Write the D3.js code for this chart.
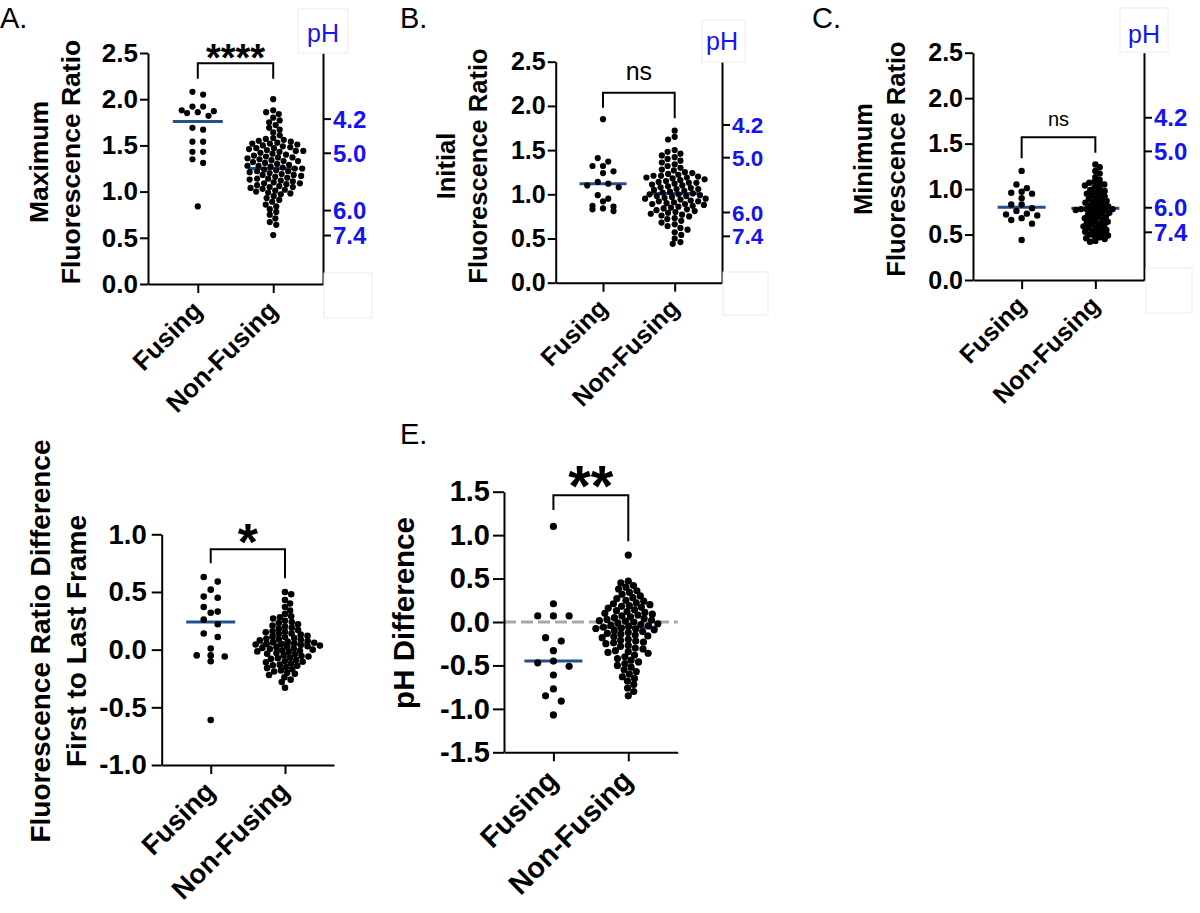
<!DOCTYPE html>
<html><head><meta charset="utf-8">
<script src="https://cdn.jsdelivr.net/npm/d3@7"></script>
<style>body{margin:0;background:#fff}svg{display:block}</style>
</head><body>
<svg id="chart" width="1200" height="913"></svg>
<script>
// ---------------- DATA ----------------
const categories = ["Fusing", "Non-Fusing"];

const maxFusing = [2.08, 2.05, 1.92, 1.92, 1.88, 1.87, 1.86, 1.85, 1.82, 1.69, 1.67, 1.54, 1.54, 1.43, 1.43, 1.35, 1.31, 0.84];
const maxNonFusing = [2.00, 1.88, 1.86, 1.84, 1.80, 1.77, 1.75, 1.72, 1.69, 1.67, 1.64, 1.61,
  1.58, 1.57, 1.56, 1.55, 1.54, 1.53, 1.52, 1.51, 1.50, 1.49, 1.48, 1.47, 1.46, 1.45, 1.44, 1.43,
  1.42, 1.41, 1.40, 1.39, 1.38, 1.37, 1.36, 1.35, 1.34, 1.33, 1.32, 1.31, 1.30, 1.29, 1.28, 1.27,
  1.26, 1.25, 1.25, 1.24, 1.23, 1.22, 1.21, 1.20, 1.19, 1.18, 1.17, 1.16, 1.15, 1.14, 1.13, 1.12,
  1.11, 1.10, 1.09, 1.08, 1.07, 1.06, 1.05, 1.04, 1.03, 1.02, 1.01, 1.00, 0.99, 0.98, 0.97,
  1.52, 1.47, 1.44, 1.37, 1.33, 1.28, 1.22, 1.18, 1.14, 1.09, 1.05,
  0.95, 0.93, 0.91, 0.89, 0.86, 0.84, 0.81, 0.78, 0.75, 0.71, 0.67, 0.64, 0.53];

const initFusing = [1.85, 1.41, 1.37, 1.32, 1.32, 1.26, 1.24, 1.14, 1.12, 1.10, 1.08, 0.99, 0.95, 0.92, 0.87, 0.86, 0.84, 0.83, 0.81];
const initNonFusing = [1.72, 1.65, 1.62, 1.50, 1.48, 1.46, 1.44, 1.42, 1.40, 1.38, 1.36, 1.34, 1.32,
  1.30, 1.28, 1.27, 1.25, 1.24, 1.23, 1.22, 1.21, 1.20, 1.19, 1.18, 1.17, 1.16, 1.15, 1.14, 1.13,
  1.12, 1.11, 1.10, 1.09, 1.08, 1.07, 1.06, 1.05, 1.04, 1.03, 1.02, 1.01, 1.00, 1.00, 0.99, 0.98,
  0.97, 0.96, 0.95, 0.94, 0.93, 0.92, 0.91, 0.90, 0.89, 0.88, 0.87, 0.86, 0.85, 0.84, 0.83, 0.82,
  0.81, 0.80, 0.79, 0.78, 0.77, 0.76, 0.75, 0.73, 0.72, 0.70, 0.68, 0.66, 0.64, 0.62, 0.60, 0.57,
  0.54, 0.50, 0.46, 0.44, 1.21, 1.19, 1.06, 0.98, 0.95, 0.92, 0.89, 1.13];

const minFusing = [1.20, 1.05, 1.01, 0.97, 0.96, 0.95, 0.90, 0.83, 0.83, 0.79, 0.76, 0.73, 0.72, 0.71, 0.68, 0.66, 0.62, 0.44];
const minNonFusing = [1.27, 1.24, 1.20, 1.17, 1.13, 1.10, 1.08, 1.07, 1.05, 1.05, 1.04, 1.02, 1.00, 0.99,
  0.98, 0.97, 0.95, 0.94, 0.93, 0.92, 0.90, 0.89, 0.88, 0.87, 0.86, 0.85, 0.84, 0.83, 0.82, 0.81,
  0.80, 0.79, 0.78, 0.78, 0.78, 0.77, 0.77, 0.76, 0.75, 0.74, 0.73, 0.72, 0.71,
  0.70, 0.69, 0.68, 0.67, 0.66, 0.65, 0.64, 0.63, 0.62, 0.61, 0.60, 0.59, 0.58, 0.57, 0.56, 0.55,
  0.54, 0.53, 0.52, 0.51, 0.50, 0.49, 0.48, 0.47, 0.46, 0.45, 0.43, 0.42];

const diffFusing = [0.63, 0.59, 0.52, 0.46, 0.45, 0.37, 0.33, 0.32, 0.26, 0.22, 0.14, 0.11, 0.01, -0.05, -0.06, -0.05, -0.10, -0.61];
const diffNonFusing = [0.50, 0.48, 0.43, 0.40, 0.37, 0.34, 0.31, 0.29, 0.28, 0.27, 0.25, 0.24, 0.23,
  0.22, 0.21, 0.20, 0.19, 0.18, 0.17, 0.16, 0.155, 0.15, 0.14, 0.135, 0.13, 0.12, 0.115, 0.11, 0.10,
  0.095, 0.09, 0.085, 0.08, 0.075, 0.07, 0.065, 0.06, 0.055, 0.05, 0.05, 0.045, 0.04, 0.035, 0.03,
  0.025, 0.02, 0.015, 0.01, 0.005, 0.00, -0.005, -0.01, -0.015, -0.02, -0.03, -0.035, -0.04, -0.05,
  -0.055, -0.06, -0.07, -0.075, -0.08, -0.09, -0.10, -0.105, -0.11, -0.12, -0.13, -0.135, -0.14,
  -0.15, -0.16, -0.17, -0.18, -0.19, -0.20, -0.21, -0.22, -0.24, -0.26, -0.28, -0.33];

const phDiffFusing = [1.10, 0.21, 0.07, 0.07, 0.07, -0.18, -0.22, -0.33, -0.45, -0.47, -0.51, -0.61, -0.77, -0.85, -0.91, -1.07];
const phDiffNonFusing = [0.77, 0.47, 0.45, 0.42, 0.40, 0.38, 0.36, 0.34, 0.32, 0.30, 0.28, 0.27, 0.25,
  0.24, 0.22, 0.21, 0.20, 0.18, 0.17, 0.16, 0.14, 0.13, 0.12, 0.10, 0.09, 0.08, 0.07, 0.06, 0.05,
  0.04, 0.03, 0.02, 0.01, 0.00, -0.01, -0.02, -0.03, -0.04, -0.05, -0.06, -0.07, -0.08, -0.09, -0.10,
  -0.11, -0.12, -0.13, -0.14, -0.15, -0.16, -0.17, -0.18, -0.20, -0.21, -0.22, -0.24, -0.25, -0.27,
  -0.28, -0.30, -0.31, -0.33, -0.35, -0.36, -0.38, -0.40, -0.42, -0.44, -0.46, -0.48, -0.50, -0.52,
  -0.55, -0.57, -0.60, -0.63, -0.65, -0.68, -0.72, -0.76, -0.80, -0.85,
  0.015, -0.045, -0.075, 0.19, 0.11, -0.23, -0.34];

const mediansA = [1.76, 1.25];
const mediansB = [1.12, 1.01];
const mediansC = [0.80, 0.79];
const mediansD = [0.24, 0.05];
const mediansE = [-0.45, -0.06];

const ratioTicks = [0, 0.5, 1.0, 1.5, 2.0, 2.5];
const diffTicks = [-1.0, -0.5, 0, 0.5, 1.0];
const phDiffTicks = [-1.5, -1.0, -0.5, 0, 0.5, 1.0, 1.5];
const phTickLabels = ["4.2", "5.0", "6.0", "7.4"];
const phTickRatios = [1.79, 1.42, 0.80, 0.53];

// ---------------- LAYOUT ----------------
const panels = [
  {letter: "A.", letterPos: [0, 28], title: ["Maximum", "Fluorescence Ratio"], titleX: [48, 80], titleY: 162,
   data: [maxFusing, maxNonFusing], medians: mediansA, domain: [0, 2.5], ticks: ratioTicks,
   left: 148, right: 323, top: 53, bottom: 284, font: 26, r: 3.1, sp: 10.7, rowH: 5.5, sx: 7.5, sy: 5.5,
   tickSize: 8, tickPad: 2, ph: true, phFont: 24, phBox: [298, 9, 50, 44], phText: [323, 42], lowBox: [324, 273, 48, 45],
   sig: "****", sigFont: 38, sigBold: true, sigY: 49, bracket: [2.39, 2.22, 2.22], medHalf: 25,
   labDx: 6, labDy: 28},
  {letter: "B.", letterPos: [400, 28], title: ["Initial", "Fluorescence Ratio"], titleX: [455, 487], titleY: 166,
   data: [initFusing, initNonFusing], medians: mediansB, domain: [0, 2.5], ticks: ratioTicks,
   left: 555.7, right: 722, top: 61.7, bottom: 282.7, font: 25, r: 3.1, sp: 10.5, rowH: 5.5, sx: 7.5, sy: 5.5,
   tickSize: 8, tickPad: 2, ph: true, phFont: 22.5, phBox: [702, 20, 43, 42], phText: [722, 50], lowBox: [723, 272, 45, 43],
   sig: "ns", sigFont: 25, sigBold: false, sigY: 73, bracket: [2.15, 1.98, 1.86], medHalf: 23.5,
   labDx: 6, labDy: 27},
  {letter: "C.", letterPos: [812, 28], title: ["Minimum", "Fluorescence Ratio"], titleX: [872, 905], titleY: 159,
   data: [minFusing, minNonFusing], medians: mediansC, domain: [0, 2.5], ticks: ratioTicks,
   left: 973, right: 1144, top: 52.7, bottom: 280, font: 25, r: 3.2, sp: 10.4, rowH: 5.5, sx: 5.4, sy: 4.6,
   tickSize: 8, tickPad: 2, ph: true, phFont: 24, phBox: [1120, 8, 48, 44], phText: [1144, 43], lowBox: [1146, 268, 46, 45],
   sig: "ns", sigFont: 20, sigBold: false, sigY: 121, bracket: [1.57, 1.34, 1.40], medHalf: 24,
   labDx: 6, labDy: 27},
  {letter: "", letterPos: [0, 0], title: ["Fluorescence Ratio Difference", "First to Last Frame"], titleX: [50, 86], titleY: 641,
   data: [diffFusing, diffNonFusing], medians: mediansD, domain: [-1, 1], ticks: diffTicks,
   left: 161.7, right: 334, top: 534.3, bottom: 765, font: 27.5, r: 3.3, sp: 14, rowH: 5.5, sx: 7, sy: 5,
   tickSize: 10, tickPad: 5, ph: false,
   sig: "*", sigFont: 52, sigBold: true, sigY: 530, bracket: [0.87, 0.75, 0.62], medHalf: 24.5,
   labDx: 6, labDy: 28},
  {letter: "E.", letterPos: [400, 444], title: ["pH Difference"], titleX: [414], titleY: 613,
   data: [phDiffFusing, phDiffNonFusing], medians: mediansE, domain: [-1.5, 1.5], ticks: phDiffTicks,
   left: 504, right: 677.7, top: 491.7, bottom: 752.3, font: 29, r: 3.6, sp: 15.7, rowH: 6, sx: 7.8, sy: 5.8,
   tickSize: 11, tickPad: 3, ph: false, zeroLine: true,
   sig: "**", sigFont: 58, sigBold: true, sigY: 473, bracket: [1.46, 1.29, 0.93], medHalf: 29,
   labDx: 6, labDy: 30}
];

const svg = d3.select("#chart");
svg.append("rect").attr("width", 1200).attr("height", 913).attr("fill", "#fff");
const FONT = "'Liberation Sans', Arial, Helvetica, sans-serif";
const BLUE = "#1414ee";
const MED = "#23508e";
const fmt = d => d3.format(".1f")(d).replace("\u2212", "-");

// row-based layout (sparse groups, GraphPad-like rows)
function swarmRows(values, y, cx, spacing, rowH) {
  const pts = values.map(v => ({v, y: y(v)})).sort((a, b) => a.y - b.y);
  const rows = []; let cur = null;
  for (const p of pts) {
    if (!cur || p.y - cur.y0 > rowH) { cur = {y0: p.y, pts: []}; rows.push(cur); }
    cur.pts.push(p);
  }
  rows.forEach(row => {
    const n = row.pts.length;
    const offs = d3.range(n).map(i => (i - (n - 1) / 2) * spacing)
      .sort((a, b) => Math.abs(a) - Math.abs(b) || a - b);
    row.pts.forEach((p, i) => { p.x = cx + offs[i]; });
  });
  return pts;
}

// anisotropic collision beeswarm (dense groups)
function swarmDense(values, y, cx, sx, sy) {
  const pts = values.map(v => ({v, y: y(v)})).sort((a, b) => a.y - b.y);
  const placed = [];
  let flip = false;
  for (const p of pts) {
    const ivs = [];
    for (const q of placed) {
      const dy = Math.abs(q.y - p.y);
      if (dy < sy) { const w = sx * Math.sqrt(1 - (dy / sy) * (dy / sy)); ivs.push([q.x - w, q.x + w]); }
    }
    const cands = [0];
    ivs.forEach(([a, b]) => cands.push(a, b));
    flip = !flip;
    cands.sort((a, b) => Math.abs(a) - Math.abs(b) || (flip ? a - b : b - a));
    for (const c of cands) {
      if (ivs.every(([a, b]) => c <= a + 1e-6 || c >= b - 1e-6)) { p.x = c; break; }
    }
    placed.push(p);
  }
  pts.forEach(p => { p.x += cx; });
  return pts;
}

panels.forEach((P) => {
  const g = svg.append("g");
  const y = d3.scaleLinear().domain(P.domain).range([P.bottom, P.top]);
  const x = d3.scalePoint().domain(categories).range([P.left, P.right]).padding(0.66);

  if (P.letter) g.append("text").attr("x", P.letterPos[0]).attr("y", P.letterPos[1])
    .attr("font-family", FONT).attr("font-size", 29).text(P.letter);

  if (P.zeroLine) g.append("line").attr("x1", P.left).attr("x2", P.right)
    .attr("y1", y(0)).attr("y2", y(0)).attr("stroke", "#a8a8a8").attr("stroke-width", 3)
    .attr("stroke-dasharray", "12,5");

  const ya = g.append("g").attr("transform", `translate(${P.left},0)`)
    .call(d3.axisLeft(y).tickValues(P.ticks).tickFormat(fmt).tickSize(P.tickSize).tickSizeOuter(0).tickPadding(P.tickPad));
  const xa = g.append("g").attr("transform", `translate(0,${P.bottom})`)
    .call(d3.axisBottom(x).tickSize(9).tickSizeOuter(0).tickFormat(""));
  [ya, xa].forEach(a => {
    a.selectAll("path,line").attr("stroke", "#000").attr("stroke-width", 2);
    a.selectAll("text").attr("font-family", FONT).attr("font-weight", "bold").attr("font-size", P.font).attr("fill", "#000");
  });

  if (P.ph) {
    const ra = g.append("g").attr("transform", `translate(${P.right},0)`)
      .call(d3.axisRight(y).tickValues(phTickRatios).tickFormat((d, i) => phTickLabels[i])
        .tickSize(8).tickSizeOuter(0).tickPadding(2));
    ra.selectAll("path,line").attr("stroke", "#000").attr("stroke-width", 2);
    ra.selectAll("text").attr("font-family", FONT).attr("font-weight", "bold").attr("font-size", P.phFont)
      .attr("fill", BLUE).attr("dy", "0.36em");
    g.append("rect").attr("x", P.phBox[0]).attr("y", P.phBox[1]).attr("width", P.phBox[2]).attr("height", P.phBox[3])
      .attr("fill", "#fff").attr("stroke", "#ececec").attr("stroke-width", 1);
    g.append("text").attr("x", P.phText[0]).attr("y", P.phText[1]).attr("text-anchor", "middle")
      .attr("font-family", FONT).attr("font-size", 25).attr("fill", BLUE).text("pH");
    g.append("rect").attr("x", P.lowBox[0]).attr("y", P.lowBox[1]).attr("width", P.lowBox[2]).attr("height", P.lowBox[3])
      .attr("fill", "#fff").attr("stroke", "#ececec").attr("stroke-width", 1);
  }

  P.title.forEach((t, i) => {
    g.append("text").attr("transform", `translate(${P.titleX[i]},${P.titleY}) rotate(-90)`)
      .attr("text-anchor", "middle").attr("font-family", FONT).attr("font-weight", "bold")
      .attr("font-size", P.font + 0.5).text(t);
  });

  categories.forEach(c => {
    g.append("text").attr("transform", `translate(${x(c) + P.labDx},${P.bottom + P.labDy}) rotate(-45)`)
      .attr("text-anchor", "end").attr("font-family", FONT).attr("font-weight", "bold")
      .attr("font-size", P.font).text(c);
  });

  // medians (under the dots)
  categories.forEach((c, ci) => {
    g.append("line").attr("x1", x(c) - P.medHalf).attr("x2", x(c) + P.medHalf)
      .attr("y1", y(P.medians[ci])).attr("y2", y(P.medians[ci]))
      .attr("stroke", MED).attr("stroke-width", 3);
  });

  categories.forEach((c, ci) => {
    const pts = ci === 0 ? swarmRows(P.data[ci], y, x(c), P.sp, P.rowH)
                         : swarmDense(P.data[ci], y, x(c), P.sx, P.sy);
    g.append("g").selectAll("circle").data(pts).join("circle")
      .attr("cx", d => d.x).attr("cy", d => d.y).attr("r", P.r).attr("fill", "#000");
  });

  const [bt, l1, l2] = P.bracket;
  const x1 = x(categories[0]), x2 = x(categories[1]);
  g.append("path").attr("d", `M${x1},${y(l1)}V${y(bt)}H${x2}V${y(l2)}`)
    .attr("fill", "none").attr("stroke", "#000").attr("stroke-width", 2);
  const isStar = P.sig.includes("*");
  g.append("text").attr("x", (x1 + x2) / 2)
    .attr("y", isStar ? P.sigY + 0.57 * P.sigFont : P.sigY + 0.26 * P.sigFont)
    .attr("text-anchor", "middle").attr("font-family", FONT)
    .attr("font-weight", P.sigBold ? "bold" : "normal").attr("font-size", P.sigFont).text(P.sig);
});
</script>
</body></html>
